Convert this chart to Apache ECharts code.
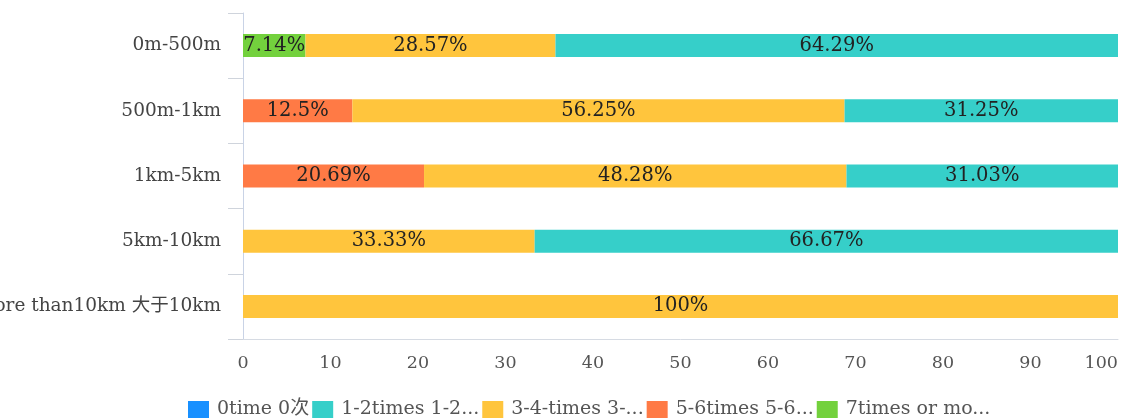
<!DOCTYPE html>
<html>
<head>
<meta charset="utf-8">
<script src="https://cdn.jsdelivr.net/npm/echarts@6/dist/echarts.min.js"></script>
<style>
  html, body { margin: 0; padding: 0; background: #fff; }
  #chart { width: 1126px; height: 420px; }
</style>
</head>
<body>
<div id="chart"></div>
<script>
// Distance bands (top to bottom)
const categories = ['0m-500m', '500m-1km', '1km-5km', '5km-10km', 'More than10km 大于10km'];

// Share of respondents (%) per visit frequency, one value per distance band
const seriesNames = ['0time 0次', '1-2times 1-2次', '3-4-times 3-4次', '5-6times 5-6次', '7times or more 7次及以上'];
const times0   = [0, 0, 0, 0, 0];
const times1_2 = [64.29, 31.25, 31.03, 66.67, 0];
const times3_4 = [28.57, 56.25, 48.28, 33.33, 100];
const times5_6 = [0, 12.5, 20.69, 0, 0];
const times7   = [7.14, 0, 0, 0, 0];

const xTicks = { min: 0, max: 100, interval: 10 };

const colors = {
  '0time 0次': '#1890ff',
  '1-2times 1-2次': '#36cfc9',
  '3-4-times 3-4次': '#ffc53d',
  '5-6times 5-6次': '#ff7a45',
  '7times or more 7次及以上': '#73d13d'
};

const FONT = '"DejaVu Serif", "Noto Sans CJK SC", serif';

// stacked left-to-right: highest frequency first
const stackOrder = [
  [seriesNames[4], times7],
  [seriesNames[3], times5_6],
  [seriesNames[2], times3_4],
  [seriesNames[1], times1_2],
  [seriesNames[0], times0]
];

const chart = echarts.init(document.getElementById('chart'), null, { renderer: 'canvas' });

chart.setOption({
  animation: false,
  textStyle: { fontFamily: FONT },
  grid: { left: 243, right: 8, top: 13, bottom: 81, containLabel: false, outerBoundsMode: 'none' },
  legend: {
    data: seriesNames,
    top: 395,
    left: 183,
    icon: 'rect',
    itemWidth: 21,
    itemHeight: 17,
    itemGap: 3,
    formatter: function (name) {
      return name.length > 12 ? name.slice(0, 12) + '...' : name;
    },
    textStyle: { fontFamily: FONT, fontSize: 19, color: '#555', padding: [0, 0, 0, 3] }
  },
  xAxis: {
    type: 'value',
    min: xTicks.min,
    max: xTicks.max,
    interval: xTicks.interval,
    axisLine: { show: true, lineStyle: { color: '#d6dbe3' } },
    axisTick: { show: false },
    splitLine: { show: false },
    axisLabel: { fontFamily: FONT, fontSize: 17.5, color: '#555', margin: 16, alignMaxLabel: 'right' }
  },
  yAxis: {
    type: 'category',
    inverse: true,
    data: categories,
    axisLine: { show: true, lineStyle: { color: '#c9d3e6' } },
    axisTick: { show: true, length: 15, lineStyle: { color: '#cfd4dc' } },
    axisLabel: { fontFamily: FONT, fontSize: 18.5, color: '#444', margin: 22 }
  },
  series: stackOrder.map(function (item) {
    return {
      name: item[0],
      type: 'bar',
      stack: 'total',
      barWidth: 23,
      itemStyle: { color: colors[item[0]] },
      label: {
        show: true,
        position: 'inside',
        fontFamily: FONT,
        fontSize: 19.5,
        color: '#222',
        formatter: function (p) { return p.value > 0 ? p.value + '%' : ''; }
      },
      data: item[1]
    };
  })
});
</script>
</body>
</html>
